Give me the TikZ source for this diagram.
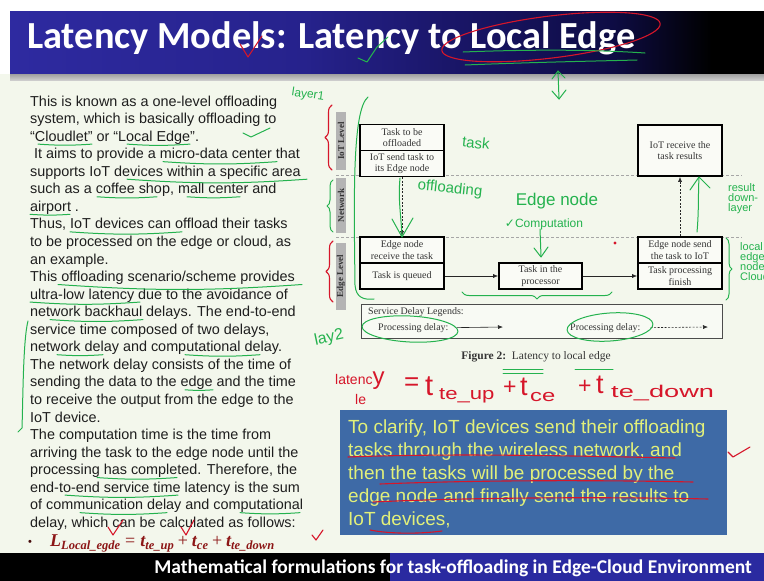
\documentclass[tikz,border=0pt]{standalone}
\usepackage{fontspec}
\usepackage{graphicx}
\setmainfont{Liberation Serif}
\newfontfamily\arialf{Liberation Sans}
\newfontfamily\calib{Carlito}
\newfontfamily\handf{Liberation Sans}
\newfontfamily\symf{DejaVu Sans}
\usetikzlibrary{arrows.meta,decorations.pathreplacing}

\definecolor{bodybg}{RGB}{243,247,236}
\definecolor{tbA}{RGB}{46,42,160}
\definecolor{tbB}{RGB}{38,34,140}
\definecolor{tbC}{RGB}{26,22,105}
\definecolor{tbD}{RGB}{14,12,68}
\definecolor{botblue}{RGB}{42,42,160}
\definecolor{gpen}{RGB}{36,178,78}
\definecolor{rpen}{RGB}{214,22,42}
\definecolor{boxblue}{RGB}{62,106,166}
\definecolor{boxtext}{RGB}{226,240,122}
\definecolor{eqred}{RGB}{140,22,22}
\definecolor{stripgray}{RGB}{180,180,180}
\definecolor{figtext}{RGB}{52,52,52}
\definecolor{bodytext}{RGB}{30,30,30}

% TikZ maps the path onto the 25bp..75bp part of a declared shading
\pgfdeclarehorizontalshading{titlebar}{100bp}{color(0bp)=(tbA); color(25bp)=(tbA);
  color(44.5bp)=(tbB); color(54bp)=(tbC); color(65bp)=(tbD); color(71.5bp)=(black); color(100bp)=(black)}

\tikzset{
  fbox/.style={draw=black, line width=1.7pt, fill=white!55!bodybg, minimum width=84pt,
    inner sep=1pt, align=center, font=\rmfamily\fontsize{10}{11.5}\selectfont, text=figtext},
  lvstrip/.style={fill=stripgray, rotate=90, minimum height=10pt, inner sep=0pt,
    font=\rmfamily\bfseries\fontsize{9}{9}\selectfont, text=figtext},
  sepline/.style={draw=gray!70, line width=0.6pt, dash pattern=on 3pt off 2pt},
  sarrow/.style={draw=black!85, line width=0.6pt, -{Latex[length=5pt,width=4pt]}},
  darrow/.style={sarrow, dash pattern=on 2pt off 1.5pt},
  ginked/.style={draw=gpen, line width=1pt, line cap=round, line join=round},
  rinked/.style={draw=rpen, line width=1.1pt, line cap=round, line join=round},
  gtext/.style={text=gpen, inner sep=0pt, font=\handf\fontsize{#1}{#1}\selectfont},
  gtext/.default=14,
  rtext/.style={text=rpen, inner sep=0pt, anchor=base west, font=\handf\fontsize{#1}{#1}\selectfont},
  rtext/.default=14,
}

% green hand underline below body line #3, from x=#1 to x=#2
\newcommand{\gunder}[3]{%
  \pgfmathsetmacro\uy{109+(#3-1)*17.55}%
  \draw[ginked] (#1,\uy) to[bend right=4] (#2,\uy);}
% wide hand-written subscript
\newcommand{\wsub}[2]{\scalebox{#1}[1]{#2}}
% subscript of the printed latency formula
\newcommand{\eqsub}[1]{\raisebox{-3.5pt}{\fontsize{12.5}{12.5}\selectfont #1}}

\begin{document}
\begin{tikzpicture}[x=1pt,y=-1pt]
\useasboundingbox (0,0) rectangle (764,581);

% page, title bar, footer
\fill[bodybg] (0,0) rectangle (764,581);
\fill[white] (0,0) rectangle (764,11);
\fill[white] (0,11) rectangle (10,74);
\shade[shading=titlebar] (10,11) rectangle (764,74);
\shade[top color=gray!75, bottom color=gray!40] (10,74) rectangle (764,80);
\fill[black] (0,553) rectangle (390,581);
\fill[botblue] (390,553) rectangle (764,581);

\node[anchor=base west, inner sep=0, text=white,
  font=\calib\bfseries\fontsize{38.3}{38.3}\selectfont] (title) at (27,48)
  {Latency Models: Latency to Local Edge};
\node[anchor=base east, inner sep=0, text=white,
  font=\calib\bfseries\fontsize{19.5}{19.5}\selectfont] (footer) at (752,573)
  {Mathematical formulations for task-offloading in Edge-Cloud Environment};

% body text
\node[anchor=north west, inner sep=0, align=left, text=bodytext,
  font=\arialf\fontsize{14.4}{17.55}\selectfont] (body) at (30,95.5) {%
This is known as a one-level offloading\\
system, which is basically offloading to\\
“Cloudlet” or “Local Edge”.\\
\hspace*{4pt}It aims to provide a micro-data center that\\
supports IoT devices within a specific area\\
such as a coffee shop, mall center and\\
airport .\\
Thus, IoT devices can offload their tasks\\
to be processed on the edge or cloud, as\\
an example.\\
This offloading scenario/scheme provides\\
ultra-low latency due to the avoidance of\\
network backhaul delays. The end-to-end\\
service time composed of two delays,\\
network delay and computational delay.\\
The network delay consists of the time of\\
sending the data to the edge and the time\\
to receive the output from the edge to the\\
IoT device.\\
The computation time is the time from\\
arriving the task to the edge node until the\\
processing has completed. Therefore, the\\
end-to-end service time latency is the sum\\
of communication delay and computational\\
delay, which can be calculated as follows:};

\node[anchor=base west, inner sep=0, text=eqred!50!black,
  font=\arialf\fontsize{11}{11}\selectfont] (eqbullet) at (28,545) {•};
\node[anchor=base west, inner sep=0, text=eqred,
  font=\rmfamily\bfseries\itshape\fontsize{18}{18}\selectfont] (eq) at (50,546)
  {L\eqsub{Local\_egde}\hspace{5pt}{\mdseries\upshape =}\hspace{5pt}t\eqsub{te\_up}\hspace{4pt}{\mdseries\upshape +}\hspace{4pt}t\eqsub{ce}\hspace{4pt}{\mdseries\upshape +}\hspace{4pt}t\eqsub{te\_down}};

% ---- figure: latency to local edge ----
\draw[sepline] (336,175.5) -- (742,175.5);
\draw[sepline] (336,237) -- (742,237);

\node[lvstrip, minimum width=58pt] (lvIoT) at (341,141) {IoT Level};
\node[lvstrip, minimum width=55pt] (lvNet) at (341,205.5) {Network};
\node[lvstrip, minimum width=67pt] (lvEdge) at (341,276) {Edge Level};

\node[fbox, minimum height=26pt] (offl) at (402,137.5) {Task to be\\offloaded};
\node[fbox, minimum height=26pt] (send) at (402,163.5) {IoT send task to\\its Edge node};
\node[fbox, minimum height=51pt] (iotrecv) at (680,150.5) {IoT receive the\\task results};
\node[fbox, minimum height=26pt] (erecv) at (402,250) {Edge node\\receive the task};
\node[fbox, minimum height=26pt] (queued) at (402,276) {Task is queued};
\node[fbox, minimum height=26pt, minimum width=83pt] (proc) at (540.5,276) {Task in the\\processor};
\node[fbox, minimum height=26pt] (esend) at (680,250) {Edge node send\\the task to IoT};
\node[fbox, minimum height=26pt] (finish) at (680,276) {Task processing\\finish};

\draw[darrow] (send.south) -- (erecv.north);
\draw[sarrow] (queued.east) -- (proc.west);
\draw[sarrow] (proc.east) -- (finish.west);
\draw[darrow] (esend.north) -- (iotrecv.south);

% legend
\node[draw=gray!60!black, line width=0.8pt, fill=white!40!bodybg, minimum width=361pt,
  minimum height=34pt, anchor=north west, inner sep=0] (legend) at (361,304) {};
\node[anchor=base west, inner sep=0, text=figtext, font=\rmfamily\fontsize{10}{10}\selectfont]
  (legtitle) at (368,314) {Service Delay Legends:};
\node[anchor=base west, inner sep=0, text=figtext, font=\rmfamily\fontsize{10}{10}\selectfont]
  (legA) at (378,330) {Processing delay:};
\node[anchor=base west, inner sep=0, text=figtext, font=\rmfamily\fontsize{10}{10}\selectfont]
  (legB) at (570,330) {Processing delay:};
\coordinate (legAend) at (503,327);
\coordinate (legBend) at (708,327);
\draw[sarrow] ([xshift=8pt]legA.east) -- (legAend);
\draw[darrow] ([xshift=10pt]legB.east) -- (legBend);

\node[anchor=base, inner sep=0, text=figtext, font=\rmfamily\fontsize{11.5}{11.5}\selectfont]
  (caption) at (536,359) {\textbf{Figure 2:}\ \ Latency to local edge};

% clarification box
\node[fill=boxblue, minimum width=387pt, minimum height=125pt, anchor=north west,
  inner sep=0] (clar) at (340,410) {};
\node[anchor=north west, inner sep=0, align=left, text=boxtext,
  font=\arialf\fontsize{19}{23}\selectfont] (clartext) at (348,420) {%
To clarify, IoT devices send their offloading\\
tasks through the wireless network, and\\
then the tasks will be processed by the\\
edge node and finally send the results to\\
IoT devices,};

% ---- pen annotations ----
% title
\draw[rinked] (551,37) ellipse [x radius=110, y radius=21, rotate=7];
\draw[rinked] (240,44) -- (248,57) -- (262,36);
\draw[ginked] (358,58) -- (367,62) -- (377,47) -- (388,37);
\draw[ginked] (463,52) .. controls (540,49) and (600,50) .. (645,53);
\draw[ginked] (465,65) .. controls (540,62) and (600,61) .. (637,60);
\draw[ginked] (558,71) -- (559,99);
\draw[ginked] (552,79) -- (558,71) -- (565,78);
\draw[ginked] (552,91) -- (559,99) -- (566,90);

% body underlines
\gunder{38}{92}{3}
\gunder{127}{190}{3}
\draw[ginked] (243,133) -- (251,137) -- (270,128);
\gunder{163}{277}{4}
\gunder{127}{307}{5}
\gunder{97}{157}{6}
\gunder{187}{240}{6}
\gunder{30}{70}{7}
\gunder{70}{182}{8}
\gunder{58}{302}{11}
\gunder{30}{140}{12}
\gunder{50}{143}{13}
\gunder{57}{103}{15}
\gunder{185}{260}{15}
\gunder{185}{213}{17}
\gunder{97}{177}{22}
\gunder{65}{178}{23}
\gunder{80}{167}{24}
\gunder{240}{300}{24}
\draw[ginked] (28,321) .. controls (23,340) and (23,400) .. (22,428) -- (18,432);
\draw[rinked] (108,527) -- (113,535) -- (123,520);
\draw[rinked] (181,527) -- (186,535) -- (194,520);
\draw[rinked] (312,535) -- (316,540) -- (323,530);

% level braces and labels
\node[gtext=12, rotate=-8] (hlayer) at (308,95) {layer1};
\draw[rinked, decorate, decoration={brace, amplitude=7pt}] (332,170) -- (332,105);
\draw[ginked, decorate, decoration={brace, amplitude=6pt}] (333,232) -- (333,180);
\draw[rinked, decorate, decoration={brace, amplitude=7pt}] (333,302) -- (333,241);
\node[gtext=16, rotate=12] (hlay) at (329,338) {lay2};
\draw[ginked] (368,97) .. controls (352,110) and (354,200) .. (355,285)
  .. controls (356,298) and (364,300) .. (374,299);

% figure notes
\node[gtext=15, rotate=-6] (htask) at (476,143) {task};
\node[gtext=15, rotate=-6] (hoffl) at (450,189) {offloading};
\draw[ginked] (400,178) .. controls (398,200) and (401,215) .. (402,236);
\draw[ginked] (392,219) -- (402,237) -- (413,218);
\node[gtext=17] (hedge) at (557,201) {Edge node};
\node[gtext=12] (hcomp) at (544,224) {{\symf\fontsize{12}{12}\selectfont ✓}Computation};
\draw[ginked] (540,229) -- (541,256);
\draw[ginked] (534,248) -- (541,257) -- (548,247);
\fill[rpen] (615,243) circle (1.6);
\draw[ginked, decorate, decoration={brace, amplitude=7pt}] (612,292) -- (462,292);
\draw[ginked] (697,232) .. controls (699,210) and (698,195) .. (699,178);
\draw[ginked] (690,190) -- (699,177) -- (710,188);
\node[gtext=11, anchor=north west, align=left] (hres) at (728,183) {result\\[-1pt]down-\\[-1pt]layer};
\draw[ginked, decorate, decoration={brace, amplitude=6pt}] (726,238) -- (726,300);
\draw[ginked] (410,329) ellipse [x radius=48, y radius=13, rotate=-3];
\draw[ginked] (610,327) ellipse [x radius=43, y radius=14, rotate=4];
\node[gtext=11, anchor=north west, align=left] (hloc) at (740,242) {local\\[-1pt]edge\\[-1pt]node\\[-1pt]Cloudlet};

% hand-written latency formula
\node[rtext=14] (hlat) at (335,384) {latenc\fontsize{24}{24}\selectfont y};
\node[rtext=14] (hle) at (355,404) {le};
\node[rtext=26] (heq) at (404,390) {=};
\node[rtext=29] (ht1) at (425,395) {t};
\node[rtext=17] (hs1) at (439,399) {\wsub{1.3}{te\_up}};
\node[rtext=23] (hp1) at (503,394) {+};
\node[rtext=27] (ht2) at (520,395) {t};
\node[rtext=17] (hs2) at (530,401) {\wsub{1.4}{ce}};
\node[rtext=23] (hp2) at (578,393) {+};
\node[rtext=27] (ht3) at (596,393) {t};
\node[rtext=17] (hs3) at (611,397) {\wsub{1.6}{te\_down}};
\draw[ginked] (503,369) -- (543,369);
\draw[ginked] (503,373) -- (543,373);
\draw[ginked] (575,369) -- (613,369);

% red underlines in the blue box
\draw[rinked] (348,457) .. controls (450,453) and (580,456) .. (675,458);
\draw[rinked] (380,484) .. controls (480,480) and (600,480) .. (693,482);
\draw[rinked] (373,502) .. controls (480,497) and (620,497) .. (708,499);
\draw[rinked] (370,530) .. controls (390,534) and (420,534) .. (442,531);
\draw[rinked] (728,452) -- (733,457) -- (750,447);
\end{tikzpicture}
\end{document}
